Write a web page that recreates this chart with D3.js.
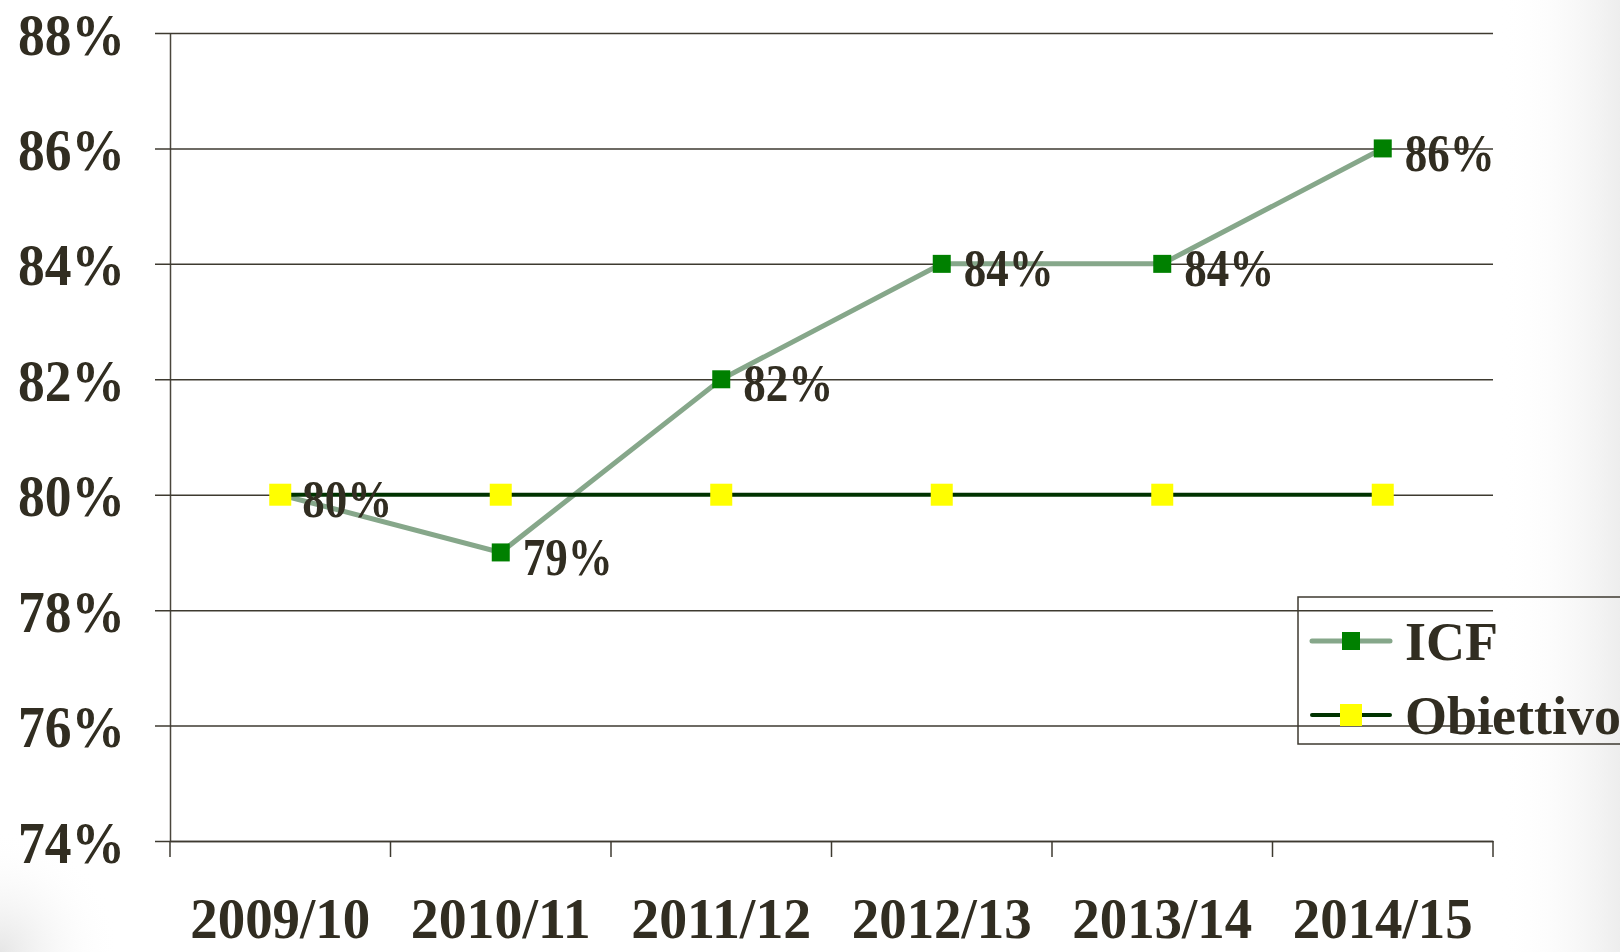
<!DOCTYPE html>
<html lang="it">
<head>
<meta charset="UTF-8">
<title>ICF vs Obiettivo</title>
<script src="https://cdnjs.cloudflare.com/ajax/libs/d3/7.8.5/d3.min.js"></script>
<style>
  * { margin: 0; padding: 0; box-sizing: border-box; }
  body { background: #fff; width: 1620px; height: 952px; overflow: hidden; }
  svg text { font-family: "Liberation Serif", "Times New Roman", serif; font-weight: bold; fill: #312d21; }
</style>
</head>
<body>
<div id="chart"></div>
<script>
  // data
  const categories = ['2009/10', '2010/11', '2011/12', '2012/13', '2013/14', '2014/15'];
  const icfValues = [80, 79, 82, 84, 84, 86];
  const obiettivoValues = [80, 80, 80, 80, 80, 80];
  const yTicks = [74, 76, 78, 80, 82, 84, 86, 88];
  const seriesNames = ['ICF', 'Obiettivo'];

  const width = 1620, height = 952;
  const plot = { left: 170, right: 1493, top: 33, bottom: 841 };

  const svg = d3.select('#chart').append('svg')
      .attr('width', width)
      .attr('height', height);

  // faint slide shading: right edge and bottom-left corner
  const defs = svg.append('defs');
  const edge = defs.append('linearGradient').attr('id', 'edge')
      .attr('x1', 0).attr('y1', 0).attr('x2', 1).attr('y2', 0);
  edge.append('stop').attr('offset', '0%').attr('stop-color', '#fff').attr('stop-opacity', 0);
  edge.append('stop').attr('offset', '100%').attr('stop-color', '#ededed').attr('stop-opacity', 1);
  const corner = defs.append('radialGradient').attr('id', 'corner')
      .attr('cx', '0%').attr('cy', '100%').attr('r', '100%');
  corner.append('stop').attr('offset', '0%').attr('stop-color', '#e6e6e6');
  corner.append('stop').attr('offset', '100%').attr('stop-color', '#fff').attr('stop-opacity', 0);
  svg.append('rect').attr('x', 1500).attr('width', 120).attr('height', height).attr('fill', 'url(#edge)');
  svg.append('rect').attr('x', 0).attr('y', 830).attr('width', 120).attr('height', 122).attr('fill', 'url(#corner)');

  const x = d3.scaleBand().domain(categories).range([plot.left, plot.right]).padding(0);
  const y = d3.scaleLinear().domain([74, 88]).range([plot.bottom, plot.top]);
  const cx = d => x(d) + x.bandwidth() / 2;

  // gridlines + y labels
  const yAxis = svg.append('g')
      .attr('transform', `translate(${plot.left},0)`)
      .call(d3.axisLeft(y).tickValues(yTicks).tickSizeInner(-(plot.right - plot.left)).tickSizeOuter(0)
          .tickFormat(d => d + '%'));
  yAxis.select('.domain').attr('stroke', '#4a463c').attr('stroke-width', 1.5);
  yAxis.selectAll('.tick line')
      .attr('x1', -15)
      .attr('stroke', '#3e3a30').attr('stroke-width', 1.5);
  yAxis.selectAll('.tick text')
      .attr('x', -45)
      .attr('dy', '0.35em')
      .attr('textLength', 107)
      .attr('lengthAdjust', 'spacingAndGlyphs')
      .style('font-size', '60px')
      .style('font-family', '"Liberation Serif", serif')
      .style('font-weight', 'bold')
      .attr('fill', '#312d21');

  // x axis
  const xAxis = svg.append('g')
      .attr('transform', `translate(0,${plot.bottom})`)
      .call(d3.axisBottom(x).tickSize(0).tickPadding(0));
  xAxis.select('.domain').attr('stroke', '#3e3a30').attr('stroke-width', 1.5);
  xAxis.selectAll('.tick text')
      .attr('y', 97)
      .attr('dy', 0)
      .attr('textLength', 180)
      .attr('lengthAdjust', 'spacingAndGlyphs')
      .style('font-size', '58px')
      .style('font-family', '"Liberation Serif", serif')
      .style('font-weight', 'bold')
      .attr('fill', '#312d21');
  // boundary ticks between categories
  const boundaries = categories.map(c => x(c)).concat([plot.right]);
  svg.append('g').selectAll('line').data(boundaries).join('line')
      .attr('x1', d => d).attr('x2', d => d)
      .attr('y1', plot.bottom).attr('y2', plot.bottom + 16)
      .attr('stroke', '#3e3a30').attr('stroke-width', 1.5);

  const line = d3.line().x((d, i) => cx(categories[i])).y(d => y(d));

  // ICF series
  svg.append('path').datum(icfValues)
      .attr('d', line)
      .attr('fill', 'none')
      .attr('stroke', '#86a78a')
      .attr('stroke-width', 5);
  svg.append('g').selectAll('rect').data(icfValues).join('rect')
      .attr('x', (d, i) => cx(categories[i]) - 9)
      .attr('y', d => y(d) - 9)
      .attr('width', 18).attr('height', 18)
      .attr('fill', '#008000');

  // Obiettivo series
  svg.append('path').datum(obiettivoValues)
      .attr('d', line)
      .attr('fill', 'none')
      .attr('stroke', '#003300')
      .attr('stroke-width', 4);
  svg.append('g').selectAll('rect').data(obiettivoValues).join('rect')
      .attr('x', (d, i) => cx(categories[i]) - 11)
      .attr('y', d => y(d) - 11)
      .attr('width', 22).attr('height', 22)
      .attr('fill', '#ffff00');

  // ICF data labels
  svg.append('g').selectAll('text').data(icfValues).join('text')
      .attr('x', (d, i) => cx(categories[i]) + 22)
      .attr('y', d => y(d) + 4)
      .attr('dy', '0.35em')
      .attr('textLength', 90)
      .attr('lengthAdjust', 'spacingAndGlyphs')
      .style('font-size', '52px')
      .text(d => d + '%');

  // legend
  const legend = svg.append('g').attr('transform', 'translate(1298,597)');
  legend.append('rect')
      .attr('width', 340).attr('height', 147)
      .attr('fill', 'none')
      .attr('stroke', '#3e3a30').attr('stroke-width', 1.5);
  const items = [
    { name: seriesNames[0], stroke: '#86a78a', sw: 5, fill: '#008000', size: 18, y: 44 },
    { name: seriesNames[1], stroke: '#003300', sw: 4, fill: '#ffff00', size: 22, y: 118 }
  ];
  const entry = legend.selectAll('g.item').data(items).join('g').attr('class', 'item')
      .attr('transform', d => `translate(0,${d.y})`);
  entry.append('line')
      .attr('x1', 14).attr('x2', 92)
      .attr('stroke', d => d.stroke).attr('stroke-width', d => d.sw)
      .attr('stroke-linecap', 'round');
  entry.append('rect')
      .attr('x', d => 53 - d.size / 2).attr('y', d => -d.size / 2)
      .attr('width', d => d.size).attr('height', d => d.size)
      .attr('fill', d => d.fill);
  entry.append('text')
      .attr('x', 107)
      .attr('dy', '0.35em')
      .style('font-size', '54px')
      .text(d => d.name);
</script>
</body>
</html>
